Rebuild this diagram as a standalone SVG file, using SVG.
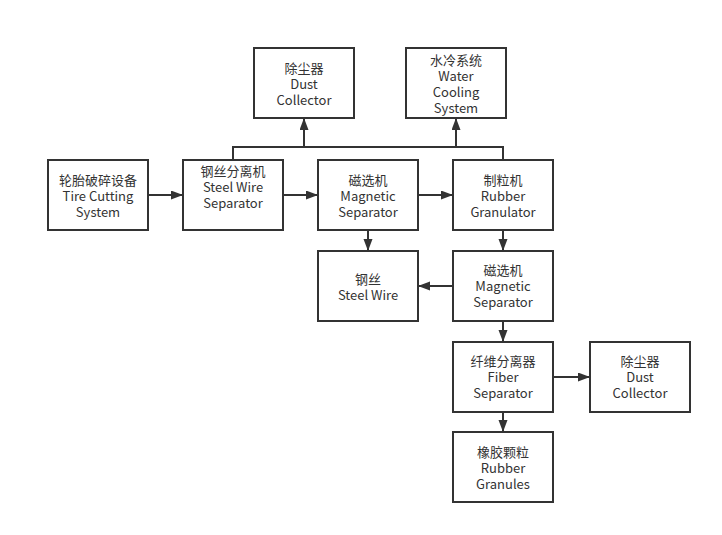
<svg xmlns="http://www.w3.org/2000/svg" width="722" height="535" viewBox="0 0 722 535">
<defs>
<style>
.box{fill:#fff;stroke:#333;stroke-width:2}
.lbl{font-family:"Noto Sans CJK SC","Noto Sans",sans-serif;font-size:13px;fill:#333;text-anchor:middle;dominant-baseline:central}
.edge{fill:none;stroke:#333;stroke-width:2}
</style>
<marker id="arr" markerUnits="userSpaceOnUse" markerWidth="12" markerHeight="10" refX="11" refY="4.5" orient="auto">
<path d="M0,0 L12,4.5 L0,9 z" fill="#333"/>
</marker>
</defs>
<rect width="722" height="535" fill="#fff"/>
<g id="connectors">
<path class="edge" d="M148,195 H182" marker-end="url(#arr)"/>
<path class="edge" d="M283,195 H317" marker-end="url(#arr)"/>
<path class="edge" d="M418,195 H452" marker-end="url(#arr)"/>
<path class="edge" d="M233,160 V147 H503 V160"/>
<path class="edge" d="M304,147 V119" marker-end="url(#arr)"/>
<path class="edge" d="M456,147 V119" marker-end="url(#arr)"/>
<path class="edge" d="M368,230 V250" marker-end="url(#arr)"/>
<path class="edge" d="M503,230 V250" marker-end="url(#arr)"/>
<path class="edge" d="M453,286 H419" marker-end="url(#arr)"/>
<path class="edge" d="M503,321 V341" marker-end="url(#arr)"/>
<path class="edge" d="M503,412 V431" marker-end="url(#arr)"/>
<path class="edge" d="M553,377 H589" marker-end="url(#arr)"/>
</g>
<g id="tire">
<rect class="box" x="48" y="160" width="100" height="70"/>
<text class="lbl"><tspan x="98" y="179">轮胎破碎设备</tspan><tspan x="98" y="195">Tire Cutting</tspan><tspan x="98" y="211">System</tspan></text>
</g>
<g id="steelsep">
<rect class="box" x="183" y="160" width="100" height="70"/>
<text class="lbl"><tspan x="233" y="170">钢丝分离机</tspan><tspan x="233" y="186">Steel Wire</tspan><tspan x="233" y="202">Separator</tspan></text>
</g>
<g id="mag1">
<rect class="box" x="318" y="160" width="100" height="70"/>
<text class="lbl"><tspan x="368" y="179">磁选机</tspan><tspan x="368" y="195">Magnetic</tspan><tspan x="368" y="211">Separator</tspan></text>
</g>
<g id="granulator">
<rect class="box" x="453" y="160" width="100" height="70"/>
<text class="lbl"><tspan x="503" y="179">制粒机</tspan><tspan x="503" y="195">Rubber</tspan><tspan x="503" y="211">Granulator</tspan></text>
</g>
<g id="dust1">
<rect class="box" x="254" y="48" width="100" height="70"/>
<text class="lbl"><tspan x="304" y="67">除尘器</tspan><tspan x="304" y="83">Dust</tspan><tspan x="304" y="99">Collector</tspan></text>
</g>
<g id="water">
<rect class="box" x="406" y="48" width="100" height="70"/>
<text class="lbl"><tspan x="456" y="59">水冷系统</tspan><tspan x="456" y="75">Water</tspan><tspan x="456" y="91">Cooling</tspan><tspan x="456" y="107">System</tspan></text>
</g>
<g id="steelwire">
<rect class="box" x="318" y="251" width="100" height="70"/>
<text class="lbl"><tspan x="368" y="278">钢丝</tspan><tspan x="368" y="294">Steel Wire</tspan></text>
</g>
<g id="mag2">
<rect class="box" x="453" y="251" width="100" height="70"/>
<text class="lbl"><tspan x="503" y="269">磁选机</tspan><tspan x="503" y="285">Magnetic</tspan><tspan x="503" y="301">Separator</tspan></text>
</g>
<g id="fiber">
<rect class="box" x="453" y="342" width="100" height="70"/>
<text class="lbl"><tspan x="503" y="360">纤维分离器</tspan><tspan x="503" y="376">Fiber</tspan><tspan x="503" y="392">Separator</tspan></text>
</g>
<g id="dust2">
<rect class="box" x="590" y="342" width="100" height="70"/>
<text class="lbl"><tspan x="640" y="360">除尘器</tspan><tspan x="640" y="376">Dust</tspan><tspan x="640" y="392">Collector</tspan></text>
</g>
<g id="granules">
<rect class="box" x="453" y="432" width="100" height="70"/>
<text class="lbl"><tspan x="503" y="451">橡胶颗粒</tspan><tspan x="503" y="467">Rubber</tspan><tspan x="503" y="483">Granules</tspan></text>
</g>
</svg>
